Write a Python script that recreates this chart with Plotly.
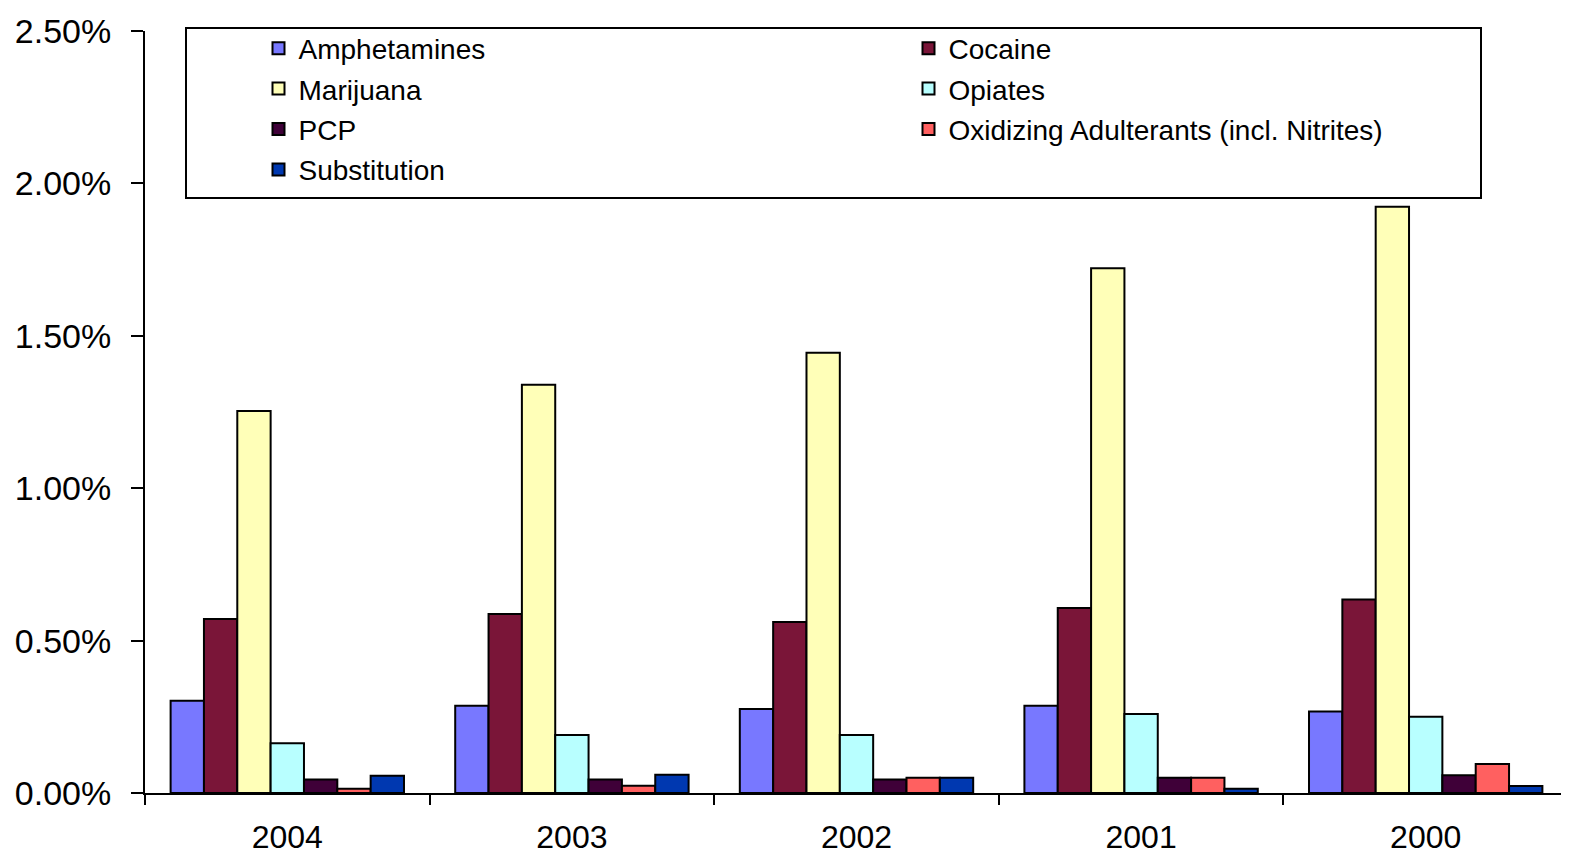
import plotly.graph_objects as go

years = ["2004", "2003", "2002", "2001", "2000"]
amphetamines = [0.00303, 0.00286, 0.00276, 0.00286, 0.00267]
cocaine = [0.00571, 0.00587, 0.00561, 0.00607, 0.00635]
marijuana = [0.01253, 0.01339, 0.01444, 0.01722, 0.01923]
opiates = [0.00163, 0.00190, 0.00190, 0.00259, 0.00250]
pcp = [0.00044, 0.00044, 0.00044, 0.00050, 0.00058]
oxidizing = [0.00014, 0.00024, 0.00050, 0.00050, 0.00095]
substitution = [0.00057, 0.00060, 0.00050, 0.00014, 0.00023]

series = [
    ("Amphetamines", amphetamines, "#7878FF", "legend"),
    ("Cocaine", cocaine, "#7A1538", "legend2"),
    ("Marijuana", marijuana, "#FFFFB8", "legend"),
    ("Opiates", opiates, "#B8FFFF", "legend2"),
    ("PCP", pcp, "#3F0038", "legend"),
    ("Oxidizing Adulterants (incl. Nitrites)", oxidizing, "#FF6060", "legend2"),
    ("Substitution", substitution, "#0038B0", "legend"),
]

FONT = "Liberation Sans, Arial, sans-serif"
OFF = 8  # default page body margin

fig = go.Figure()
for i, (name, vals, color, lg) in enumerate(series):
    fig.add_trace(go.Bar(
        x=years, y=vals, name=name,
        marker=dict(color=color, line=dict(color="black", width=2)),
        legend=lg, legendgroup=f"g{i}",
    ))

W, H = 1561, 851
L, R, T, B = 137, 1, 23, 66
pw, ph = W - L - R, H - T - B

def px_x(p):
    return (p - OFF - L) / pw

def px_y(p):
    return (H - B - (p - OFF)) / ph

leg_common = dict(
    orientation="v", xanchor="left", yanchor="top",
    bgcolor="rgba(0,0,0,0)", borderwidth=0,
    font=dict(family=FONT, size=28, color="black"),
    tracegroupgap=1, itemclick=False,
)

fig.update_layout(
    width=W, height=H,
    margin=dict(l=L, r=R, t=T, b=B, autoexpand=False),
    paper_bgcolor="white", plot_bgcolor="white",
    barmode="group", bargap=0.18, bargroupgap=0,
    font=dict(family=FONT, size=28, color="black"),
    showlegend=True,
    legend=dict(x=px_x(258.5), y=px_y(23.5), **leg_common),
    legend2=dict(x=px_x(908.5), y=px_y(23.5), **leg_common),
    xaxis=dict(
        type="category", tickson="boundaries", ticks="outside", ticklen=10,
        tickwidth=2, tickcolor="black", showline=True, linecolor="black",
        linewidth=2, showgrid=False, tickfont=dict(family=FONT, size=32),
        ticklabelstandoff=15, automargin=False,
    ),
    yaxis=dict(
        range=[0, 0.025], dtick=0.005, tickformat=".2%", ticks="outside",
        ticklen=12, tickwidth=2, tickcolor="black", showline=True,
        linecolor="black", linewidth=2, showgrid=False, zeroline=False,
        tickfont=dict(family=FONT, size=34), ticklabelstandoff=13,
        automargin=False,
    ),
    shapes=[dict(
        type="rect", xref="paper", yref="paper",
        x0=px_x(186), x1=px_x(1481), y0=px_y(198), y1=px_y(28),
        line=dict(color="black", width=2), fillcolor="rgba(0,0,0,0)",
    )],
)

fig.write_html("out.html")
